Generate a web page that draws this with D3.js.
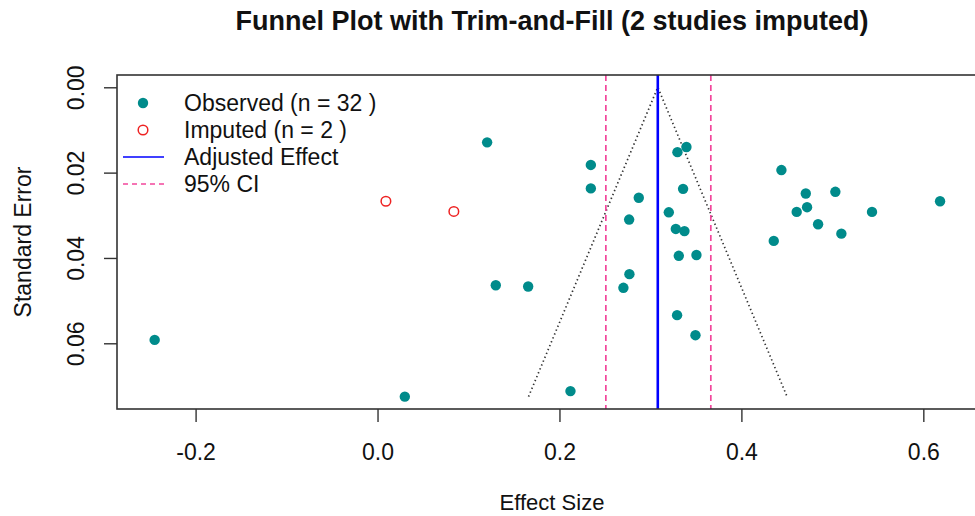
<!DOCTYPE html>
<html>
<head>
<meta charset="utf-8">
<script src="https://cdn.jsdelivr.net/npm/d3@7"></script>
<style>
  html, body { margin: 0; padding: 0; background: #fff; }
  svg { display: block; font-family: "Liberation Sans", Arial, sans-serif; }
</style>
</head>
<body>
<svg id="chart" width="975" height="516"></svg>
<script>
// observed studies: effect size and standard error
const obsEffect = [-0.245, 0.030, 0.1205, 0.130, 0.1656, 0.2345, 0.2345, 0.2872, 0.2766, 0.3297,
  0.3396, 0.3359, 0.3202, 0.3279, 0.3374, 0.3312, 0.3506, 0.2769, 0.2703, 0.3293,
  0.3495, 0.2121, 0.4440, 0.4708, 0.5033, 0.4722, 0.4608, 0.5436, 0.4843, 0.5099,
  0.4356, 0.6184];
const obsSE = [0.0592, 0.0725, 0.0129, 0.0464, 0.0467, 0.0182, 0.0237, 0.0259, 0.0310, 0.0152,
  0.0140, 0.0238, 0.0293, 0.0332, 0.0337, 0.0395, 0.0393, 0.0438, 0.0470, 0.0534,
  0.0581, 0.0712, 0.0194, 0.0249, 0.0245, 0.0281, 0.0292, 0.0292, 0.0321, 0.0343,
  0.0360, 0.0267];
// imputed studies
const impEffect = [0.0092, 0.0839];
const impSE = [0.0267, 0.0291];

const adjEffect = 0.3081;
const ciBounds = [0.2510, 0.3664];
const funnelSE = [0, 0.0725];
const zCrit = 1.96;

const xTicks = [-0.2, 0.0, 0.2, 0.4, 0.6];
const yTicks = [0.00, 0.02, 0.04, 0.06];

const legendLabels = ["Observed (n = 32 )", "Imputed (n = 2 )", "Adjusted Effect", "95% CI"];

const teal = "#008b8b", red = "#ee2222", blue = "#0000ff", pink = "#f2479c";
const FONT = "Liberation Sans, Arial, sans-serif";

const svg = d3.select("#chart");
const box = { left: 117, right: 987, top: 75, bottom: 409 };

const x = d3.scaleLinear().domain([-0.2864, 0.670]).range([box.left, box.right]);
const y = d3.scaleLinear().domain([-0.00288, 0.0754]).range([box.top, box.bottom]);

const clip = svg.append("defs").append("clipPath").attr("id", "plot-clip");
clip.append("rect").attr("x", box.left).attr("y", box.top)
  .attr("width", box.right - box.left).attr("height", box.bottom - box.top);

const plot = svg.append("g").attr("clip-path", "url(#plot-clip)");

// funnel
const funnel = [
  [adjEffect - zCrit * funnelSE[1], funnelSE[1]],
  [adjEffect, funnelSE[0]],
  [adjEffect + zCrit * funnelSE[1], funnelSE[1]]
];
plot.append("path")
  .attr("d", d3.line().x(d => x(d[0])).y(d => y(d[1]))(funnel))
  .attr("fill", "none").attr("stroke", "#333")
  .attr("stroke-width", 1.7).attr("stroke-dasharray", "1.4,2.8");

// CI lines
plot.selectAll(".ci").data(ciBounds).enter().append("line")
  .attr("x1", d => x(d)).attr("x2", d => x(d))
  .attr("y1", box.top).attr("y2", box.bottom)
  .attr("stroke", pink).attr("stroke-width", 1.7).attr("stroke-dasharray", "6,4");

// adjusted effect
plot.append("line")
  .attr("x1", x(adjEffect)).attr("x2", x(adjEffect))
  .attr("y1", box.top).attr("y2", box.bottom)
  .attr("stroke", blue).attr("stroke-width", 2.6);

// observed
plot.selectAll(".obs").data(d3.range(obsEffect.length)).enter().append("circle")
  .attr("cx", i => x(obsEffect[i])).attr("cy", i => y(obsSE[i]))
  .attr("r", 5.2).attr("fill", teal);

// imputed
plot.selectAll(".imp").data(d3.range(impEffect.length)).enter().append("circle")
  .attr("cx", i => x(impEffect[i])).attr("cy", i => y(impSE[i]))
  .attr("r", 4.8).attr("fill", "none").attr("stroke", red).attr("stroke-width", 1.5);

// box
svg.append("rect")
  .attr("x", box.left).attr("y", box.top)
  .attr("width", box.right - box.left).attr("height", box.bottom - box.top)
  .attr("fill", "none").attr("stroke", "#333").attr("stroke-width", 1.6);

// axes
const fmtX = d => d3.format(".1f")(d).replace("\u2212", "-");
const xAxis = svg.append("g").attr("transform", `translate(0,${box.bottom})`)
  .call(d3.axisBottom(x).tickValues(xTicks).tickFormat(fmtX).tickSize(13).tickPadding(0));
xAxis.select(".domain").remove();
xAxis.selectAll("line").attr("stroke", "#333").attr("stroke-width", 1.4);
xAxis.selectAll("text").attr("font-size", 23).attr("fill", "#111")
  .attr("font-family", FONT).attr("dy", null).attr("y", 51);

const yAxis = svg.append("g").attr("transform", `translate(${box.left},0)`)
  .call(d3.axisLeft(y).tickValues(yTicks).tickFormat(d3.format(".2f")).tickSize(13).tickPadding(0));
yAxis.select(".domain").remove();
yAxis.selectAll("line").attr("stroke", "#333").attr("stroke-width", 1.4);
yAxis.selectAll("text")
  .attr("font-size", 23).attr("fill", "#111")
  .attr("font-family", FONT)
  .attr("text-anchor", "middle").attr("dy", null).attr("x", null)
  .attr("transform", "translate(-41,0) rotate(-90)")
  .attr("dominant-baseline", "central");

// titles
svg.append("text").attr("x", 552).attr("y", 30).attr("text-anchor", "middle")
  .attr("font-size", 27).attr("font-weight", "bold").attr("fill", "#111")
  .text("Funnel Plot with Trim-and-Fill (2 studies imputed)");
svg.append("text").attr("x", 552).attr("y", 510).attr("text-anchor", "middle")
  .attr("font-size", 22).attr("fill", "#111").text("Effect Size");
svg.append("text").attr("transform", `translate(31,242) rotate(-90)`).attr("text-anchor", "middle")
  .attr("font-size", 23).attr("fill", "#111").text("Standard Error");

// legend
const lg = svg.append("g");
const rowY = i => 103 + i * 27;
lg.selectAll("text").data(legendLabels).enter().append("text")
  .attr("x", 184).attr("y", (d, i) => rowY(i)).attr("dy", "0.36em")
  .attr("font-size", 23).attr("fill", "#111").text(d => d);
lg.append("circle").attr("cx", 143).attr("cy", rowY(0)).attr("r", 5.2).attr("fill", teal);
lg.append("circle").attr("cx", 143).attr("cy", rowY(1)).attr("r", 4.8)
  .attr("fill", "none").attr("stroke", red).attr("stroke-width", 1.5);
lg.append("line").attr("x1", 123).attr("x2", 164).attr("y1", rowY(2)).attr("y2", rowY(2))
  .attr("stroke", blue).attr("stroke-width", 1.5);
lg.append("line").attr("x1", 123).attr("x2", 164).attr("y1", rowY(3)).attr("y2", rowY(3))
  .attr("stroke", pink).attr("stroke-width", 1.5).attr("stroke-dasharray", "5,4");
</script>
</body>
</html>
